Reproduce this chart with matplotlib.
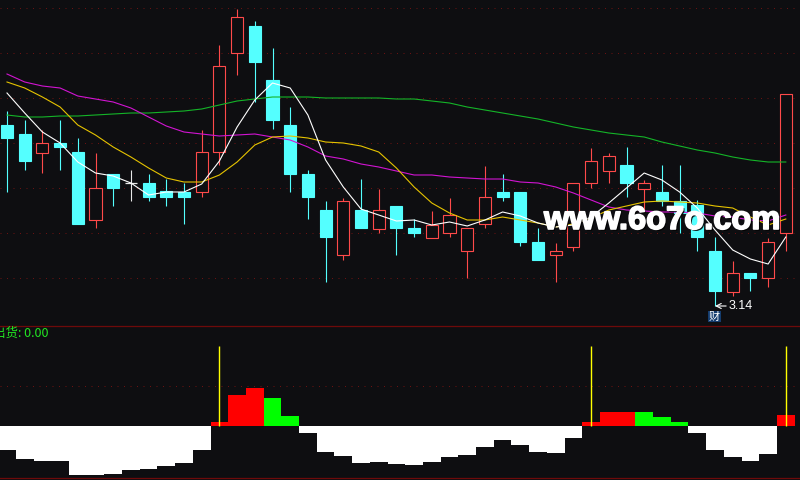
import matplotlib
matplotlib.use("Agg")
import matplotlib.pyplot as plt
from matplotlib.patches import Rectangle
from matplotlib.lines import Line2D
import matplotlib.patheffects as pe

# ---------------- data ----------------
opens  = [3.502, 3.484, 3.446, 3.466, 3.448, 3.312, 3.404, 3.386, 3.386, 3.370,
          3.368, 3.368, 3.448, 3.646, 3.700, 3.592, 3.502, 3.404, 3.332, 3.242,
          3.332, 3.294, 3.340, 3.296, 3.276, 3.286, 3.250, 3.304, 3.368, 3.368,
          3.268, 3.242, 3.258, 3.386, 3.410, 3.422, 3.374, 3.368, 3.350, 3.342,
          3.250, 3.168, 3.206, 3.196, 3.286]
highs  = [3.530, 3.512, 3.492, 3.512, 3.476, 3.446, 3.404, 3.412, 3.404, 3.394,
          3.386, 3.492, 3.662, 3.734, 3.710, 3.656, 3.538, 3.412, 3.350, 3.356,
          3.394, 3.374, 3.340, 3.314, 3.330, 3.356, 3.296, 3.420, 3.404, 3.368,
          3.296, 3.266, 3.386, 3.456, 3.446, 3.458, 3.392, 3.422, 3.422, 3.352,
          3.278, 3.230, 3.206, 3.276, 3.564]
lows   = [3.368, 3.412, 3.406, 3.412, 3.304, 3.296, 3.340, 3.350, 3.350, 3.340,
          3.304, 3.358, 3.422, 3.602, 3.548, 3.494, 3.368, 3.314, 3.188, 3.232,
          3.296, 3.286, 3.242, 3.278, 3.276, 3.278, 3.196, 3.296, 3.350, 3.260,
          3.232, 3.188, 3.250, 3.376, 3.386, 3.358, 3.332, 3.340, 3.286, 3.250,
          3.140, 3.160, 3.170, 3.178, 3.250]
closes = [3.476, 3.430, 3.466, 3.458, 3.304, 3.376, 3.376, 3.386, 3.358, 3.358,
          3.358, 3.448, 3.620, 3.718, 3.628, 3.512, 3.404, 3.358, 3.278, 3.350,
          3.296, 3.332, 3.296, 3.286, 3.302, 3.322, 3.296, 3.358, 3.358, 3.268,
          3.232, 3.250, 3.386, 3.430, 3.440, 3.386, 3.386, 3.350, 3.326, 3.278,
          3.170, 3.206, 3.196, 3.268, 3.564]

ma5  = [3.566, 3.526, 3.488, 3.466, 3.428, 3.406, 3.400, 3.386, 3.362, 3.368,
        3.368, 3.384, 3.430, 3.498, 3.552, 3.586, 3.576, 3.522, 3.432, 3.378,
        3.334, 3.322, 3.310, 3.312, 3.302, 3.308, 3.300, 3.312, 3.328, 3.320,
        3.306, 3.298, 3.302, 3.318, 3.346, 3.376, 3.406, 3.392, 3.368, 3.336,
        3.292, 3.252, 3.234, 3.224, 3.278]
ma10 = [3.588, 3.576, 3.558, 3.538, 3.502, 3.482, 3.458, 3.438, 3.416, 3.396,
        3.388, 3.388, 3.402, 3.428, 3.462, 3.478, 3.480, 3.476, 3.468, 3.466,
        3.460, 3.448, 3.416, 3.378, 3.346, 3.326, 3.312, 3.312, 3.318, 3.312,
        3.306, 3.298, 3.304, 3.316, 3.332, 3.340, 3.348, 3.350, 3.348, 3.346,
        3.340, 3.336, 3.318, 3.302, 3.314]
ma20 = [3.604, 3.588, 3.580, 3.576, 3.560, 3.554, 3.548, 3.536, 3.518, 3.500,
        3.488, 3.484, 3.480, 3.482, 3.484, 3.478, 3.472, 3.458, 3.440, 3.434,
        3.424, 3.418, 3.410, 3.402, 3.402, 3.398, 3.396, 3.394, 3.394, 3.388,
        3.386, 3.378, 3.366, 3.352, 3.338, 3.332, 3.330, 3.328, 3.328, 3.326,
        3.320, 3.318, 3.312, 3.310, 3.322]
ma60 = [3.522, 3.518, 3.518, 3.520, 3.520, 3.522, 3.524, 3.526, 3.526, 3.528,
        3.530, 3.534, 3.542, 3.550, 3.554, 3.558, 3.558, 3.558, 3.556, 3.556,
        3.556, 3.556, 3.554, 3.554, 3.550, 3.546, 3.538, 3.532, 3.526, 3.520,
        3.514, 3.506, 3.498, 3.492, 3.486, 3.482, 3.478, 3.468, 3.460, 3.452,
        3.446, 3.438, 3.432, 3.428, 3.428]

osc = [-24, -33, -35, -35, -49, -49, -48, -44, -43, -40,
       -37, -24, 4, 31, 38, 28, 10, -7, -26, -30,
       -37, -36, -38, -39, -36, -31, -29, -21, -14, -19,
       -26, -27, -12, 4, 14, 14, 14, 9, 4, -7,
       -24, -31, -35, -28, 11]
osc_kind = "WWWWWWWWWWWWRRRGGWWWWWWWWWWWWWWWWRRRGGGWWWWWR"
signal_idx = [12, 33, 44]
signal_val = [80, 80, 80]

low_label = "3.14"
low_idx = 40
label_text = "出货: 0.00"
watermark = "www.6o7o.com"

# ---------------- style ----------------
BG = "#0e0e11"
RED = "#ff4a4a"
CYAN = "#54ffff"
GRID = "#6a1212"
BORDER = "#6e0a0a"

W, H = 800, 480
fig = plt.figure(figsize=(W / 100, H / 100), dpi=100, facecolor=BG)

def px_rect(top, bottom):
    return [0, 1 - bottom / H, 1, (bottom - top) / H]

ax = fig.add_axes(px_rect(0, 325))
ax2 = fig.add_axes(px_rect(325, 477))
xl = (-7 / 17.7, (W - 7) / 17.7)
for a in (ax, ax2):
    a.set_facecolor(BG)
    a.set_xlim(*xl)
    a.axis("off")

ax.set_ylim(3.102, 3.752)
ax2.set_ylim(-51, 101)

# dotted grid
for gy in [3.736, 3.646, 3.556, 3.466, 3.376, 3.286, 3.196]:
    ax.axhline(gy, color=GRID, lw=0.72, ls=(0, (1, 5.5)), zorder=0)
ax2.axhline(40, color=GRID, lw=0.72, ls=(0, (1, 5.5)), zorder=0)

# candles
bw = 0.68
for i, (o, h, l, c) in enumerate(zip(opens, highs, lows, closes)):
    if c > o:
        col, face = RED, BG
    elif c < o:
        col, face = CYAN, CYAN
    else:
        col, face = "#e8e8e8", None
    ax.vlines(i, l, h, color=col, lw=0.8, zorder=2)
    if face is None:
        ax.hlines(o, i - 0.32, i + 0.32, color=col, lw=0.9, zorder=3)
    else:
        ax.add_patch(Rectangle((i - bw / 2, min(o, c)), bw, max(abs(c - o), 0.0005),
                               facecolor=face, edgecolor=col, lw=0.8, zorder=3))

xs = list(range(len(closes)))
ax.plot(xs, ma60, color="#14b428", lw=0.8, zorder=4)
ax.plot(xs, ma20, color="#d214d2", lw=0.8, zorder=4)
ax.plot(xs, ma10, color="#e6c300", lw=0.8, zorder=4)
ax.plot(xs, ma5, color="#ffffff", lw=0.8, zorder=5)

# low label
ax.annotate(low_label, xy=(low_idx, lows[low_idx]), xytext=(10, 0), textcoords="offset points",
            color="white", fontsize=9, family="Liberation Sans", va="center", ha="left",
            arrowprops=dict(arrowstyle="->", color="white", lw=0.8,
                            shrinkA=0, shrinkB=0), zorder=6, annotation_clip=False)
ax.text(low_idx - 0.05, 3.119, "财", color="white", fontsize=8,
        family=["Noto Sans CJK SC", "DejaVu Sans"], ha="center", va="center",
        bbox=dict(boxstyle="square,pad=0.08", fc="#143c6e", ec="none"), zorder=6, clip_on=False)

# watermark
fig.text(662 / W, 1 - 229 / H, watermark, color="white", fontsize=23.5,
         family="Liberation Sans", weight="bold", ha="center", va="baseline",
         path_effects=[pe.withSimplePatchShadow(offset=(1.2, -1.2), shadow_rgbFace="black", alpha=0.9),
                       pe.withStroke(linewidth=1.2, foreground="white")], zorder=10)

# oscillator panel
for i, (v, k) in enumerate(zip(osc, osc_kind)):
    col = {"W": "white", "R": "#ff0000", "G": "#00ff00"}[k]
    ax2.bar(i, v, width=1.0, color=col, linewidth=0, zorder=2)
for si, sv in zip(signal_idx, signal_val):
    ax2.vlines(si, 0, sv, color="#ffff00", lw=1.0, zorder=3)

fig.text(-7 / W, 1 - 333.5 / H, label_text, color="#22e622", fontsize=9,
         family=["Noto Sans CJK SC", "DejaVu Sans"], ha="left", va="center")

# panel borders
for yb in (325.5, 477.5):
    fig.add_artist(Line2D([0, 1], [1 - yb / H, 1 - yb / H], transform=fig.transFigure,
                          color=BORDER, lw=0.9))

fig.savefig("out.png", dpi=100, facecolor=BG)
